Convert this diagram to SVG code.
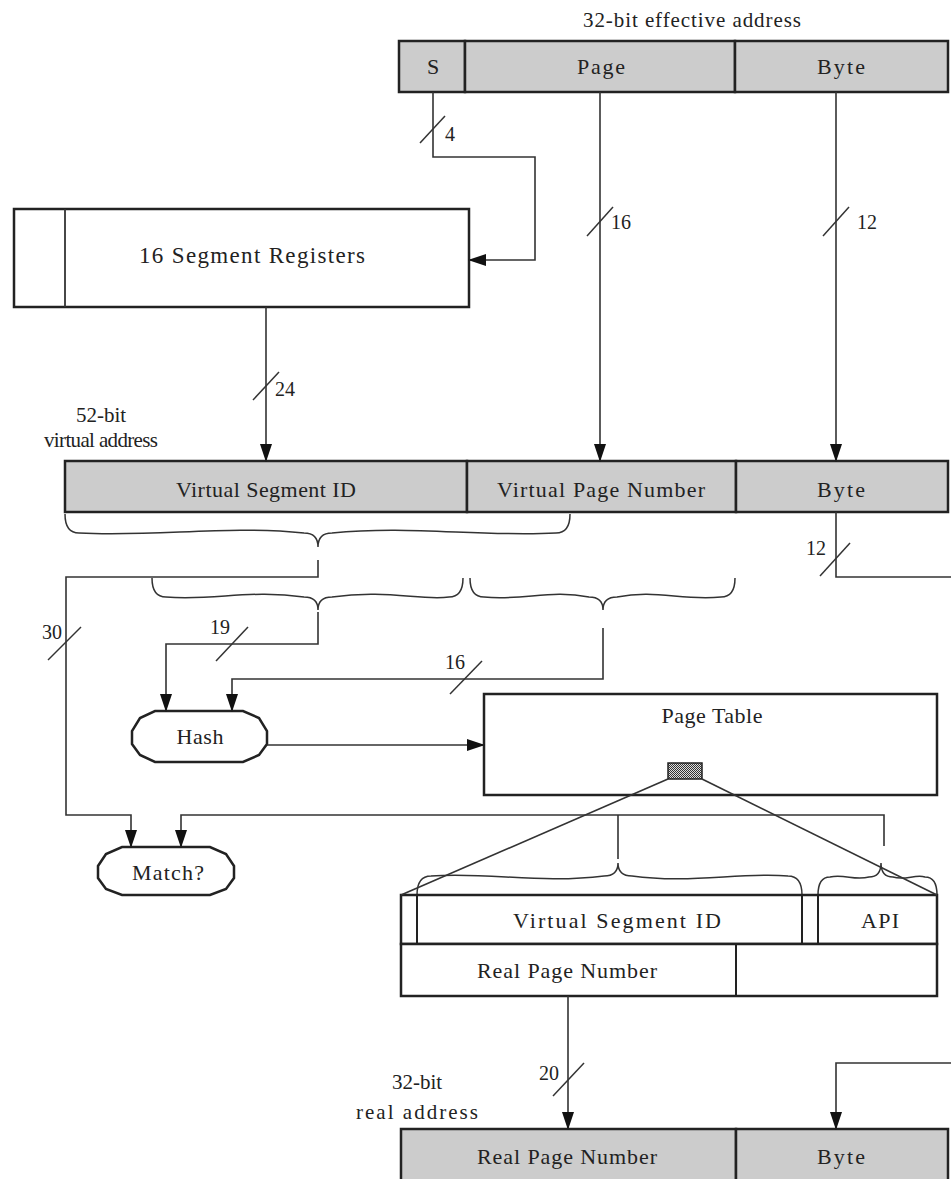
<svg xmlns="http://www.w3.org/2000/svg" width="951" height="1179" viewBox="0 0 951 1179">
<style>
text{font-family:"Liberation Serif","Times New Roman",serif;font-size:22px;fill:#222;text-anchor:middle}
.lg{font-size:23px}
.md{font-size:21px}
.nm{font-size:20px}
.st{text-anchor:start}
.en{text-anchor:end}
.box{fill:#fff;stroke:#222;stroke-width:2.5}
.fld{fill:#cccccc;stroke:#222;stroke-width:2.5}
.ln{fill:none;stroke:#333;stroke-width:1.6}
.br{fill:none;stroke:#333;stroke-width:1.5}
.tk{stroke:#333;stroke-width:1.5}
.arr{marker-end:url(#ah)}
</style>
<defs>
<marker id="ah" markerWidth="18" markerHeight="12" refX="17" refY="6" orient="auto" markerUnits="userSpaceOnUse"><path d="M0,0 L18,6 L0,12 z" fill="#111"/></marker>
<pattern id="dots" width="2" height="2" patternUnits="userSpaceOnUse"><rect width="2" height="2" fill="#ddd"/><rect width="1" height="1" fill="#333"/><rect x="1" y="1" width="1" height="1" fill="#333"/></pattern>
</defs>

<g id="effective-address">
<text class="md" x="692" y="27" textLength="218">32-bit effective address</text>
<rect class="fld" x="399" y="41" width="66" height="51"/>
<rect class="fld" x="465" y="41" width="270" height="51"/>
<rect class="fld" x="735" y="41" width="213" height="51"/>
<text x="433" y="74">S</text>
<text x="601" y="74" textLength="48">Page</text>
<text x="841" y="74" textLength="48">Byte</text>
</g>

<g id="segment-registers">
<rect class="box" x="14" y="209" width="455" height="98"/>
<line x1="65" y1="209" x2="65" y2="307" stroke="#333" stroke-width="1.8"/>
<text class="lg" x="252" y="263" textLength="226">16 Segment Registers</text>
</g>

<g id="virtual-address">
<text class="md" x="101" y="422">52-bit</text>
<text class="md" x="101" y="447" textLength="114">virtual address</text>
<rect class="fld" x="65" y="461" width="402" height="51"/>
<rect class="fld" x="467" y="461" width="269" height="51"/>
<rect class="fld" x="736" y="461" width="212" height="51"/>
<text x="266" y="497" textLength="180">Virtual Segment ID</text>
<text x="601" y="497" textLength="208">Virtual Page Number</text>
<text x="841" y="497" textLength="48">Byte</text>
</g>

<g id="braces">
<path class="br" d="M65,514 Q65,533 79,533 C158,537 225,525 304,533 Q318,533 318,547 Q318,533 332,533 C410,525 478,537 556,533 Q570,533 570,514"/>
<path class="br" d="M152,578 Q152,597 166,597 C214,601 250,589 304,597 Q318,597 318,610 Q318,597 332,597 C386,589 422,601 449,597 Q463,597 463,578"/>
<path class="br" d="M470,578 Q470,597 484,597 C524,601 550,589 589,597 Q603,597 603,610 Q603,597 617,597 C656,589 682,601 721,597 Q735,597 735,578"/>
<path class="br" d="M417,895 Q417,876 431,876 C490,872 540,884 604,876 Q618,876 618,863 Q618,876 632,876 C690,884 740,872 788,876 Q802,876 802,895"/>
<path class="br" d="M818,895 Q818,877 830,877 C845,874 855,881 869,877 Q881,877 881,863 Q881,877 893,877 C905,881 915,874 925,877 Q937,877 937,895"/>
</g>

<g id="hash">
<path class="box" d="M155,711 L243,711 L259,718 L267,731 L267,744 L259,755 L243,762 L155,762 L140,755 L132,744 L132,731 L140,718 Z"/>
<text x="200" y="744" textLength="47">Hash</text>
</g>

<g id="page-table">
<rect class="box" x="484" y="694" width="453" height="101"/>
<text x="712" y="723" textLength="101">Page Table</text>
<rect x="668" y="763" width="34" height="16" fill="url(#dots)" stroke="#222" stroke-width="1.5"/>
</g>

<g id="match">
<path class="box" d="M122,847 L210,847 L226,854 L234,866 L234,878 L226,889 L210,895 L122,895 L106,889 L98,878 L98,866 L106,854 Z"/>
<text x="168" y="880" textLength="72">Match?</text>
</g>

<g id="pte">
<rect class="box" x="401" y="895" width="536" height="49"/>
<line x1="417" y1="895" x2="417" y2="944" stroke="#222" stroke-width="2"/>
<line x1="802" y1="895" x2="802" y2="944" stroke="#222" stroke-width="2"/>
<line x1="818" y1="895" x2="818" y2="944" stroke="#222" stroke-width="2"/>
<rect class="box" x="401" y="944" width="536" height="52"/>
<line x1="736" y1="944" x2="736" y2="996" stroke="#222" stroke-width="2"/>
<text x="617" y="928" textLength="208">Virtual Segment ID</text>
<text x="880" y="928" textLength="38">API</text>
<text x="567" y="978" textLength="180">Real Page Number</text>
</g>

<g id="real-address">
<text class="md" x="417" y="1089">32-bit</text>
<text class="md" x="417" y="1119" textLength="122">real address</text>
<rect class="fld" x="401" y="1129" width="335" height="54"/>
<rect class="fld" x="736" y="1129" width="212" height="54"/>
<text x="567" y="1164" textLength="180">Real Page Number</text>
<text x="841" y="1164" textLength="48">Byte</text>
</g>

<g id="connectors">
<polyline class="ln arr" points="433,92 433,157 535,157 535,260 469,260"/>
<line class="tk" x1="420" y1="143" x2="445" y2="116"/>
<text class="nm st" x="445" y="141">4</text>
<line class="ln arr" x1="600" y1="92" x2="600" y2="461"/>
<line class="tk" x1="587" y1="236" x2="613" y2="207"/>
<text class="nm st" x="611" y="229">16</text>
<line class="ln arr" x1="836" y1="92" x2="836" y2="461"/>
<line class="tk" x1="823" y1="236" x2="849" y2="207"/>
<text class="nm st" x="857" y="229">12</text>
<line class="ln arr" x1="266" y1="307" x2="266" y2="461"/>
<line class="tk" x1="253" y1="400" x2="279" y2="372"/>
<text class="nm st" x="275" y="396">24</text>
<polyline class="ln" points="836,512 836,577 951,577"/>
<line class="tk" x1="820" y1="576" x2="850" y2="543"/>
<text class="nm st" x="806" y="555">12</text>
<polyline class="ln arr" points="318,560 318,577 66,577 66,815 131,815 131,847"/>
<line class="tk" x1="48" y1="660" x2="81" y2="627"/>
<text class="nm st" x="42" y="639">30</text>
<polyline class="ln arr" points="318,612 318,644 166,644 166,711"/>
<line class="tk" x1="216" y1="661" x2="248" y2="627"/>
<text class="nm st" x="210" y="634">19</text>
<polyline class="ln arr" points="603,628 603,679 232,679 232,711"/>
<line class="tk" x1="450" y1="694" x2="482" y2="661"/>
<text class="nm st" x="445" y="669">16</text>
<line class="ln arr" x1="267" y1="745" x2="484" y2="745"/>
<line class="ln" x1="668" y1="779" x2="401" y2="895"/>
<line class="ln" x1="702" y1="779" x2="937" y2="895"/>
<polyline class="ln arr" points="884,846 884,815 181,815 181,847"/>
<line class="ln" x1="618" y1="815" x2="618" y2="859"/>
<line class="ln arr" x1="568" y1="996" x2="568" y2="1129"/>
<line class="tk" x1="553" y1="1096" x2="584" y2="1063"/>
<text class="nm en" x="559" y="1080">20</text>
<polyline class="ln arr" points="951,1063 836,1063 836,1129"/>
</g>
</svg>
